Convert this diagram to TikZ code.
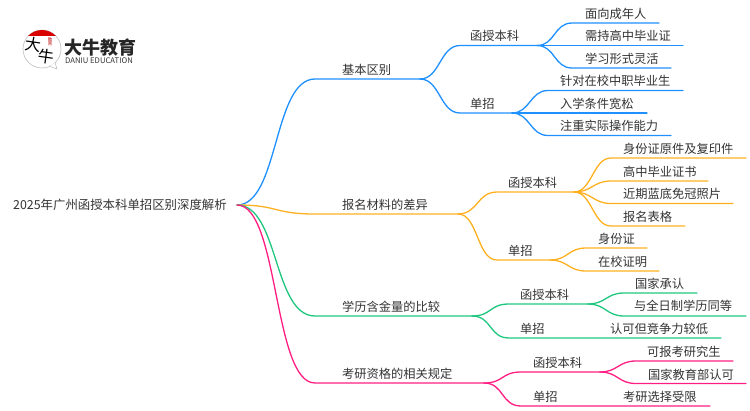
\documentclass[tikz,border=0pt]{standalone}
\usepackage{fontspec}
\setmainfont{Noto Sans CJK SC}
\usetikzlibrary{positioning}
\definecolor{lineblue}{HTML}{1E90FF}
\definecolor{lineorange}{HTML}{FFB020}
\definecolor{linegreen}{HTML}{1FC77E}
\definecolor{linepink}{HTML}{FF1E82}
\definecolor{txtgray}{HTML}{333333}
\tikzset{
  lbl/.style={anchor=west, inner sep=0pt, text=txtgray, font=\fontsize{12.25}{14}\selectfont},
  wire/.style={line width=1.3pt, line cap=round}
}
\begin{document}
\begin{tikzpicture}[x=1pt, y=-1pt]
        \useasboundingbox (0,0) rectangle (750,410);

        % Logo
        \node[circle, draw=black!25, fill=white, line width=0.6pt, minimum size=38pt, inner sep=0pt] (logo) at (42,49) {};
        \coordinate (tailA) at (50,66.5);
        \coordinate (tailB) at (57,69);
        \coordinate (tailC) at (55,62.5);
        \fill[white] (tailA) -- (tailB) -- (tailC) -- cycle;
        \draw[black!25, line width=0.6pt] (tailA) -- (tailB) -- (tailC);
        \begin{scope}
            \clip (42,49) circle (19pt);
            \fill[red!85!black] (20,25) rectangle (65,36);
        \end{scope}
        \node[inner sep=0pt, rotate=-8, font=\fontsize{16}{16}\selectfont] (logoA) at (33,45) {大};
        \node[inner sep=0pt, rotate=-8, font=\fontsize{16}{16}\selectfont] (logoB) at (46,57) {牛};
        \node[inner sep=0pt, text=red!75!black, align=center, font=\fontsize{4.5}{4.5}\selectfont] (logoC) at (50,42) {教\\育};
        \node[anchor=west, inner sep=0pt, text=black!85, font=\fontsize{18}{18}\selectfont\bfseries] (logoT) at (64,48) {大牛教育};
        \node[anchor=west, inner sep=0pt, text=black!80, font=\fontsize{7.7}{8}\selectfont] (logoE) at (65,60.5) {DANIU EDUCATION};

        % Define the root
        \node[lbl, font=\fontsize{12.4}{14}\selectfont] (R) at (13,205) {2025年广州函授本科单招区别深度解析};
        \coordinate (Re) at (237,205);

        % Define the first branch (blue)
        \node[lbl] (A) at (342,70) {基本区别};
        \node[lbl] (A1) at (470,36) {函授本科};
        \node[lbl] (A2) at (470,104) {单招};
        \node[lbl] (A11) at (585,14) {面向成年人};
        \node[lbl] (A12) at (585,36) {需持高中毕业证};
        \node[lbl] (A13) at (585,59) {学习形式灵活};
        \node[lbl] (A21) at (560,81) {针对在校中职毕业生};
        \node[lbl] (A22) at (560,104) {入学条件宽松};
        \node[lbl] (A23) at (560,126) {注重实际操作能力};
        \coordinate (As) at (315,79); \coordinate (Ae) at (420,79);
        \coordinate (A1s) at (460,45.5); \coordinate (A1e) at (537,45.5);
        \coordinate (A2s) at (460,113); \coordinate (A2e) at (512,113);
        \coordinate (A11s) at (572,23); \coordinate (A11e) at (659,23);
        \coordinate (A12e) at (683,45.5);
        \coordinate (A13s) at (572,68); \coordinate (A13e) at (671,68);
        \coordinate (A21s) at (548,90.5); \coordinate (A21e) at (683,90.5);
        \coordinate (A22e) at (647,113);
        \coordinate (A23s) at (548,135.5); \coordinate (A23e) at (671,135.5);

        \draw[wire, lineblue] (Re) .. controls +(42,0) and +(-42,0) .. (As) -- (Ae);
        \draw[wire, lineblue] (Ae) .. controls +(20,0) and +(-20,0) .. (A1s) -- (A1e);
        \draw[wire, lineblue] (Ae) .. controls +(20,0) and +(-20,0) .. (A2s) -- (A2e);
        \draw[wire, lineblue] (A1e) .. controls +(18,0) and +(-18,0) .. (A11s) -- (A11e);
        \draw[wire, lineblue] (A1e) -- (A12e);
        \draw[wire, lineblue] (A1e) .. controls +(18,0) and +(-18,0) .. (A13s) -- (A13e);
        \draw[wire, lineblue] (A2e) .. controls +(18,0) and +(-18,0) .. (A21s) -- (A21e);
        \draw[wire, lineblue] (A2e) -- (A22e);
        \draw[wire, lineblue] (A2e) .. controls +(18,0) and +(-18,0) .. (A23s) -- (A23e);

        % Define the second branch (orange)
        \node[lbl] (B) at (342,205) {报名材料的差异};
        \node[lbl] (B1) at (508,183) {函授本科};
        \node[lbl] (B2) at (508,251) {单招};
        \node[lbl] (B11) at (623,149) {身份证原件及复印件};
        \node[lbl] (B12) at (623,172) {高中毕业证书};
        \node[lbl] (B13) at (623,194) {近期蓝底免冠照片};
        \node[lbl] (B14) at (623,217) {报名表格};
        \node[lbl] (B21) at (598,238.5) {身份证};
        \node[lbl] (B22) at (598,262) {在校证明};
        \coordinate (Bs) at (315,214); \coordinate (Be) at (458,214);
        \coordinate (B1s) at (497,192); \coordinate (B1e) at (574,192);
        \coordinate (B2s) at (497,260); \coordinate (B2e) at (550,260);
        \coordinate (B11s) at (611,158); \coordinate (B11e) at (746,158);
        \coordinate (B12s) at (611,181); \coordinate (B12e) at (708,181);
        \coordinate (B13s) at (611,203.5); \coordinate (B13e) at (733,203.5);
        \coordinate (B14s) at (611,226); \coordinate (B14e) at (685,226);
        \coordinate (B21s) at (586,248); \coordinate (B21e) at (647,248);
        \coordinate (B22s) at (586,271); \coordinate (B22e) at (659,271);

        \draw[wire, lineorange] (Re) .. controls +(42,0) and +(-42,0) .. (Bs) -- (Be);
        \draw[wire, lineorange] (Be) .. controls +(20,0) and +(-20,0) .. (B1s) -- (B1e);
        \draw[wire, lineorange] (Be) .. controls +(20,0) and +(-20,0) .. (B2s) -- (B2e);
        \draw[wire, lineorange] (B1e) .. controls +(18,0) and +(-18,0) .. (B11s) -- (B11e);
        \draw[wire, lineorange] (B1e) .. controls +(18,0) and +(-18,0) .. (B12s) -- (B12e);
        \draw[wire, lineorange] (B1e) .. controls +(18,0) and +(-18,0) .. (B13s) -- (B13e);
        \draw[wire, lineorange] (B1e) .. controls +(18,0) and +(-18,0) .. (B14s) -- (B14e);
        \draw[wire, lineorange] (B2e) .. controls +(18,0) and +(-18,0) .. (B21s) -- (B21e);
        \draw[wire, lineorange] (B2e) .. controls +(18,0) and +(-18,0) .. (B22s) -- (B22e);

        % Define the third branch (green)
        \node[lbl] (C) at (342,307) {学历含金量的比较};
        \node[lbl] (C1) at (520,295) {函授本科};
        \node[lbl] (C2) at (520,329) {单招};
        \node[lbl] (C11) at (635,284) {国家承认};
        \node[lbl] (C12) at (634,306) {与全日制学历同等};
        \node[lbl] (C21) at (610,329) {认可但竞争力较低};
        \coordinate (Cs) at (315,316); \coordinate (Ce) at (472,316);
        \coordinate (C1s) at (509,304); \coordinate (C1e) at (588,304);
        \coordinate (C2s) at (509,338); \coordinate (C2e) at (721,338);
        \coordinate (C11s) at (624,293); \coordinate (C11e) at (697,293);
        \coordinate (C12s) at (624,316); \coordinate (C12e) at (746,316);

        \draw[wire, linegreen] (Re) .. controls +(42,0) and +(-42,0) .. (Cs) -- (Ce);
        \draw[wire, linegreen] (Ce) .. controls +(20,0) and +(-20,0) .. (C1s) -- (C1e);
        \draw[wire, linegreen] (Ce) .. controls +(20,0) and +(-20,0) .. (C2s) -- (C2e);
        \draw[wire, linegreen] (C1e) .. controls +(18,0) and +(-18,0) .. (C11s) -- (C11e);
        \draw[wire, linegreen] (C1e) .. controls +(18,0) and +(-18,0) .. (C12s) -- (C12e);

        % Define the fourth branch (pink)
        \node[lbl] (D) at (342,374) {考研资格的相关规定};
        \node[lbl] (D1) at (533,363) {函授本科};
        \node[lbl] (D2) at (533,397) {单招};
        \node[lbl] (D11) at (647,352) {可报考研究生};
        \node[lbl] (D12) at (648,375) {国家教育部认可};
        \node[lbl] (D21) at (623,397) {考研选择受限};
        \coordinate (Ds) at (315,383); \coordinate (De) at (484,383);
        \coordinate (D1s) at (521,372); \coordinate (D1e) at (600,372);
        \coordinate (D2s) at (521,406); \coordinate (D2e) at (710,406);
        \coordinate (D11s) at (636,361); \coordinate (D11e) at (733,361);
        \coordinate (D12s) at (636,383.5); \coordinate (D12e) at (746,383.5);

        \draw[wire, linepink] (Re) .. controls +(42,0) and +(-42,0) .. (Ds) -- (De);
        \draw[wire, linepink] (De) .. controls +(20,0) and +(-20,0) .. (D1s) -- (D1e);
        \draw[wire, linepink] (De) .. controls +(20,0) and +(-20,0) .. (D2s) -- (D2e);
        \draw[wire, linepink] (D1e) .. controls +(18,0) and +(-18,0) .. (D11s) -- (D11e);
        \draw[wire, linepink] (D1e) .. controls +(18,0) and +(-18,0) .. (D12s) -- (D12e);

    \end{tikzpicture}
\end{document}
